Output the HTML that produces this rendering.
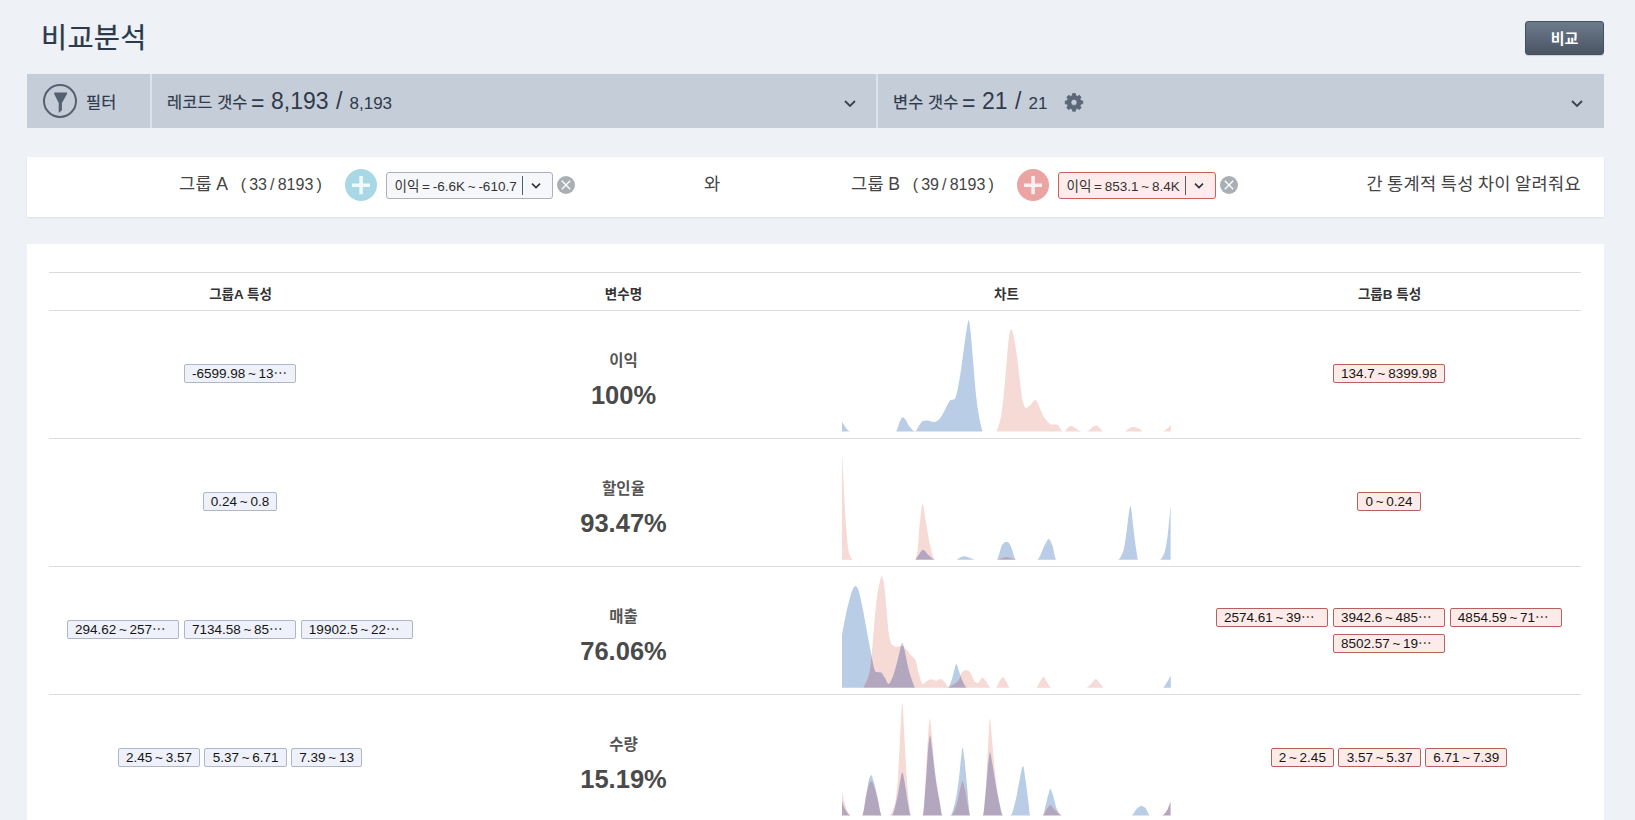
<!DOCTYPE html><html lang="ko"><head><meta charset="utf-8"><title>비교분석</title><style>
*{box-sizing:border-box;margin:0;padding:0}
html,body{width:1635px;height:820px;overflow:hidden}
body{background:#eef2f6;font-family:"Liberation Sans","Noto Sans CJK KR",sans-serif;color:#333;position:relative}
.abs{position:absolute;white-space:nowrap}
#title{left:41px;top:18px;font-size:28.4px;letter-spacing:.3px;line-height:40px;color:#2c3a4b;font-weight:400;-webkit-text-stroke:.25px #2c3a4b}
#btn{left:1525px;top:21px;width:79px;height:34px;border-radius:3px;background:linear-gradient(#6c7b8b,#4b5564);border:1px solid #47505d;color:#fff;font-weight:700;font-size:15px;line-height:34px;text-align:center;box-shadow:0 1px 1px rgba(0,0,0,.15)}
#fbar{left:27px;top:74px;width:1577px;height:54px;background:#c5cdd8}
.sep{top:0;width:2px;height:54px;background:#dde3ea}
.flabel{font-size:16.4px;letter-spacing:.1px;-webkit-text-stroke:.2px #2f3b4c;line-height:54px;color:#2f3b4c}
.fbig{font-size:23px;line-height:54px;color:#2f3b4c}
.fsmall{font-size:17px;line-height:54px;color:#2f3b4c}
#gbar{left:27px;top:157px;width:1577px;height:60px;background:#fff;box-shadow:0 1px 2px rgba(0,0,0,.08)}
.gtext{font-size:17.6px;letter-spacing:.3px;word-spacing:-1px;line-height:60px;color:#444}
.gcnt{font-size:16px;word-spacing:-1.3px;line-height:60px;color:#444}
.sel{top:15px;height:27px;border:1px solid #adb1b6;border-radius:3px;background:#f5f7fa;font-size:13.5px;word-spacing:-1px;line-height:28px;color:#333;padding-left:7.5px}
.sel.b{border-color:#c9605a;background:#fdeceb}
.sel i{position:absolute;top:3px;width:1px;height:19px;background:#555d66}
#panel{left:27px;top:244px;width:1577px;height:600px;background:#fff}
.hline{left:49px;width:1532px;height:1px;background:#d9dcdf}
.th{font-size:13.5px;font-weight:700;color:#333;line-height:38px;width:383px;text-align:center;top:275.5px}
.vname{font-size:15.5px;font-weight:700;color:#555;width:383px;left:432px;text-align:center;line-height:22px}
.vpct{font-size:25.5px;font-weight:700;color:#4a4a4a;width:383px;left:432px;text-align:center;line-height:30px}
.tags{width:383px;text-align:center;font-size:0;line-height:0}
.tag{display:inline-block;vertical-align:top;height:19px;border:1px solid #b0b6ca;border-radius:2px;background:#eef1f9;font-size:13.5px;word-spacing:-1px;line-height:17.5px;color:#151515;padding:0 7.2px;margin:0 2.2px 7px;text-align:left;white-space:nowrap;overflow:hidden}
.tag.w{width:112.6px}
.tags.b .tag{border-color:#b8605a;background:#fdebe9}
.chart{left:815px;width:383px;height:128px;overflow:hidden}
</style></head><body>
<div id="title" class="abs">비교분석</div>
<div id="btn" class="abs">비교</div>
<div id="fbar" class="abs">
<svg class="abs" style="left:15px;top:9px" width="36" height="36" viewBox="0 0 36 36"><circle cx="18" cy="18" r="16" fill="none" stroke="#566170" stroke-width="2"/><path d="M12.2 9.4H25V11L19.9 20V27.2L16.7 30V20L12.2 11Z" fill="#566170"/></svg>
<span class="abs flabel" style="left:59px;top:1px">필터</span>
<div class="abs sep" style="left:123px"></div>
<span class="abs flabel" style="left:140px;top:1px">레코드 갯수</span>
<span class="abs fbig" style="left:224px;top:1.5px">=</span>
<span class="abs fbig" style="left:244px;top:0">8,193</span>
<span class="abs fbig" style="left:309px;top:0">/</span>
<span class="abs fsmall" style="left:322.5px;top:2.6px">8,193</span>
<svg class="abs" style="left:816px;top:25px" width="14" height="10" viewBox="0 0 14 10"><path d="M2 2L7 7L12 2" fill="none" stroke="#39434f" stroke-width="1.8"/></svg>
<div class="abs sep" style="left:849px"></div>
<span class="abs flabel" style="left:866px;top:1px">변수 갯수</span>
<span class="abs fbig" style="left:935px;top:1.5px">=</span>
<span class="abs fbig" style="left:955px;top:0">21</span>
<span class="abs fbig" style="left:988px;top:0">/</span>
<span class="abs fsmall" style="left:1001.5px;top:2.6px">21</span>
<svg class="abs" style="left:1036px;top:17px" width="22" height="22" viewBox="0 0 22 22"><path fill-rule="evenodd" fill="#5b6776" stroke="#5b6776" stroke-width="0.8" stroke-linejoin="round" d="M9.42,4.58L9.54,2.62L12.46,2.62L12.58,4.58L14.70,5.46L16.17,4.16L18.24,6.23L16.94,7.70L17.82,9.82L19.78,9.94L19.78,12.86L17.82,12.98L16.94,15.10L18.24,16.57L16.17,18.64L14.70,17.34L12.58,18.22L12.46,20.18L9.54,20.18L9.42,18.22L7.30,17.34L5.83,18.64L3.76,16.57L5.06,15.10L4.18,12.98L2.22,12.86L2.22,9.94L4.18,9.82L5.06,7.70L3.76,6.23L5.83,4.16L7.30,5.46ZM14.10,11.40A3.1,3.1 0 1 0 7.90,11.40A3.1,3.1 0 1 0 14.10,11.40Z"/></svg>
<svg class="abs" style="left:1543px;top:25px" width="14" height="10" viewBox="0 0 14 10"><path d="M2 2L7 7L12 2" fill="none" stroke="#39434f" stroke-width="1.8"/></svg>
</div>
<div id="gbar" class="abs">
<span class="abs gtext" style="left:152px;top:-3.5px">그룹 A</span>
<span class="abs gcnt" style="left:213.7px;top:-2.5px">( 33 / 8193 )</span>
<svg class="abs" style="left:318px;top:12px" width="32" height="32" viewBox="0 0 32 32"><circle cx="16" cy="16" r="16" fill="#a8d8e6"/><path d="M7 16.3H25M16.1 7V25.3" stroke="#eefafd" stroke-width="3.5" fill="none"/></svg>
<div class="abs sel" style="left:359px;width:167px">이익 = -6.6K ~ -610.7<i style="left:135px"></i><svg class="abs" style="left:144px;top:9px" width="10" height="8" viewBox="0 0 10 8"><path d="M1 1.6L5 5.6L9 1.6" fill="none" stroke="#2a2f35" stroke-width="1.5"/></svg></div>
<svg class="abs" style="left:530px;top:19px" width="18" height="18" viewBox="0 0 18 18"><circle cx="9" cy="9" r="9" fill="#a9b0b5"/><path d="M4.8 4.8L13.2 13.2M13.2 4.8L4.8 13.2" stroke="#fff" stroke-width="1.3" fill="none"/></svg>
<span class="abs gtext" style="left:677px;top:-3.5px">와</span>
<span class="abs gtext" style="left:824px;top:-3.5px">그룹 B</span>
<span class="abs gcnt" style="left:885.7px;top:-2.5px">( 39 / 8193 )</span>
<svg class="abs" style="left:990px;top:12px" width="32" height="32" viewBox="0 0 32 32"><circle cx="16" cy="16" r="16" fill="#eba3a3"/><path d="M7 16.3H25M16.1 7V25.3" stroke="#fdf0f0" stroke-width="3.5" fill="none"/></svg>
<div class="abs sel b" style="left:1031px;width:158px">이익 = 853.1 ~ 8.4K<i style="left:126px"></i><svg class="abs" style="left:135px;top:9px" width="10" height="8" viewBox="0 0 10 8"><path d="M1 1.6L5 5.6L9 1.6" fill="none" stroke="#2a2f35" stroke-width="1.5"/></svg></div>
<svg class="abs" style="left:1193px;top:19px" width="18" height="18" viewBox="0 0 18 18"><circle cx="9" cy="9" r="9" fill="#a9b0b5"/><path d="M4.8 4.8L13.2 13.2M13.2 4.8L4.8 13.2" stroke="#fff" stroke-width="1.3" fill="none"/></svg>
<span class="abs gtext" style="right:23px;top:-3.5px">간 통계적 특성 차이 알려줘요</span>
</div>
<div id="panel" class="abs"></div>
<div class="abs hline" style="top:272px"></div>
<div class="abs hline" style="top:310px"></div>
<div class="abs hline" style="top:438px"></div>
<div class="abs hline" style="top:566px"></div>
<div class="abs hline" style="top:694px"></div>
<div class="abs th" style="left:49px">그룹A 특성</div>
<div class="abs th" style="left:432px">변수명</div>
<div class="abs th" style="left:815px">차트</div>
<div class="abs th" style="left:1198px">그룹B 특성</div>
<div class="abs vname" style="top:350px">이익</div>
<div class="abs vpct" style="top:380px">100%</div>
<div class="abs tags a" style="left:48.5px;top:364px;white-space:normal"><span class="tag w">-6599.98 ~ 13⋯</span></div>
<div class="abs tags b" style="left:1197.5px;top:364px;white-space:normal"><span class="tag">134.7 ~ 8399.98</span></div>
<svg class="abs chart" style="top:310px" width="383" height="128" viewBox="0 0 383 128"><clipPath id="cp0"><path d="M27.0,121.6L27.0,112.1C29.6,115.2 32.1,121.0 34.7,121.4C35.5,121.5 36.2,121.6 37.0,121.6C51.0,121.6 65.0,121.6 79.0,121.6C79.7,121.6 80.5,121.4 81.2,121.2C82.5,120.8 83.7,113.4 85.0,111.0C85.9,109.4 86.7,107.2 87.6,107.2C88.5,107.2 89.5,108.5 90.4,109.5C91.7,110.9 92.9,114.8 94.2,116.3C96.2,118.7 98.3,121.4 100.3,121.4C101.6,121.4 102.8,117.3 104.1,115.6C105.4,113.9 106.6,111.2 107.9,111.0C109.4,110.7 111.0,110.6 112.5,110.6C114.5,110.6 116.6,112.1 118.6,112.1C120.1,112.1 121.6,111.2 123.1,110.2C124.6,109.2 126.2,106.6 127.7,104.2C129.2,101.8 130.8,97.5 132.3,95.0C133.4,93.1 134.6,90.6 135.7,90.1C137.0,89.6 138.3,89.8 139.6,89.2C140.5,88.8 141.3,84.7 142.2,81.3C143.5,76.4 144.7,67.9 146.0,59.9C147.5,50.2 149.1,35.4 150.6,26.4C151.7,19.9 152.8,9.9 153.9,9.9C154.3,9.9 154.8,15.2 155.2,18.8C156.2,27.0 157.2,41.1 158.2,52.3C159.2,63.9 160.3,78.9 161.3,87.4C162.6,97.9 163.8,105.4 165.1,111.8C165.9,115.7 166.6,118.3 167.4,121.6L167.4,121.6Z"/></clipPath><path d="M27.0,121.6L27.0,112.1C29.6,115.2 32.1,121.0 34.7,121.4C35.5,121.5 36.2,121.6 37.0,121.6C51.0,121.6 65.0,121.6 79.0,121.6C79.7,121.6 80.5,121.4 81.2,121.2C82.5,120.8 83.7,113.4 85.0,111.0C85.9,109.4 86.7,107.2 87.6,107.2C88.5,107.2 89.5,108.5 90.4,109.5C91.7,110.9 92.9,114.8 94.2,116.3C96.2,118.7 98.3,121.4 100.3,121.4C101.6,121.4 102.8,117.3 104.1,115.6C105.4,113.9 106.6,111.2 107.9,111.0C109.4,110.7 111.0,110.6 112.5,110.6C114.5,110.6 116.6,112.1 118.6,112.1C120.1,112.1 121.6,111.2 123.1,110.2C124.6,109.2 126.2,106.6 127.7,104.2C129.2,101.8 130.8,97.5 132.3,95.0C133.4,93.1 134.6,90.6 135.7,90.1C137.0,89.6 138.3,89.8 139.6,89.2C140.5,88.8 141.3,84.7 142.2,81.3C143.5,76.4 144.7,67.9 146.0,59.9C147.5,50.2 149.1,35.4 150.6,26.4C151.7,19.9 152.8,9.9 153.9,9.9C154.3,9.9 154.8,15.2 155.2,18.8C156.2,27.0 157.2,41.1 158.2,52.3C159.2,63.9 160.3,78.9 161.3,87.4C162.6,97.9 163.8,105.4 165.1,111.8C165.9,115.7 166.6,118.3 167.4,121.6L167.4,121.6Z" fill="#b9cde6"/><path d="M181.7,121.6L181.7,121.6C183.0,117.3 184.2,114.6 185.5,108.7C186.5,104.0 187.5,96.1 188.5,87.4C189.5,78.4 190.6,63.6 191.6,52.3C192.4,43.9 193.1,32.2 193.9,27.9C194.7,23.6 195.4,19.1 196.2,19.1C196.9,19.1 197.7,22.3 198.4,24.9C199.4,28.6 200.5,36.1 201.5,43.2C202.5,50.0 203.5,59.8 204.5,67.5C205.5,75.5 206.6,86.5 207.6,90.4C208.6,94.2 209.6,98.0 210.6,98.0C212.4,98.0 214.2,95.6 216.0,94.2C217.5,93.0 219.0,90.1 220.5,90.1C221.5,90.1 222.6,93.1 223.6,95.0C225.1,97.9 226.7,103.0 228.2,105.7C229.5,107.9 230.7,109.7 232.0,111.0C233.5,112.5 235.0,114.5 236.5,114.5C238.3,114.5 240.1,114.5 241.9,114.5C243.9,114.5 246.0,121.6 248.0,121.6C248.5,121.6 249.0,121.6 249.5,121.6C250.5,121.6 251.6,118.6 252.6,117.9C253.9,117.0 255.1,116.0 256.4,116.0C257.9,116.0 259.4,117.8 260.9,118.6C262.9,119.7 265.0,121.6 267.0,121.6C268.5,121.6 270.1,121.6 271.6,121.6C273.6,121.6 275.7,118.2 277.7,117.1C278.8,116.5 279.9,115.6 281.0,115.6C282.2,115.6 283.4,117.0 284.6,117.9C285.9,118.9 287.1,121.6 288.4,121.6C295.3,121.6 302.1,121.6 309.0,121.6C310.8,121.6 312.5,118.8 314.3,118.2C315.8,117.7 317.4,117.1 318.9,117.1C320.4,117.1 321.9,118.0 323.4,118.6C325.2,119.3 327.0,121.6 328.8,121.6C334.9,121.6 341.0,121.6 347.1,121.6C348.9,121.6 350.6,120.0 352.4,118.6C353.5,117.7 354.7,116.1 355.8,114.8L355.8,121.6Z" fill="#f5dad6"/><path d="M181.7,121.6L181.7,121.6C183.0,117.3 184.2,114.6 185.5,108.7C186.5,104.0 187.5,96.1 188.5,87.4C189.5,78.4 190.6,63.6 191.6,52.3C192.4,43.9 193.1,32.2 193.9,27.9C194.7,23.6 195.4,19.1 196.2,19.1C196.9,19.1 197.7,22.3 198.4,24.9C199.4,28.6 200.5,36.1 201.5,43.2C202.5,50.0 203.5,59.8 204.5,67.5C205.5,75.5 206.6,86.5 207.6,90.4C208.6,94.2 209.6,98.0 210.6,98.0C212.4,98.0 214.2,95.6 216.0,94.2C217.5,93.0 219.0,90.1 220.5,90.1C221.5,90.1 222.6,93.1 223.6,95.0C225.1,97.9 226.7,103.0 228.2,105.7C229.5,107.9 230.7,109.7 232.0,111.0C233.5,112.5 235.0,114.5 236.5,114.5C238.3,114.5 240.1,114.5 241.9,114.5C243.9,114.5 246.0,121.6 248.0,121.6C248.5,121.6 249.0,121.6 249.5,121.6C250.5,121.6 251.6,118.6 252.6,117.9C253.9,117.0 255.1,116.0 256.4,116.0C257.9,116.0 259.4,117.8 260.9,118.6C262.9,119.7 265.0,121.6 267.0,121.6C268.5,121.6 270.1,121.6 271.6,121.6C273.6,121.6 275.7,118.2 277.7,117.1C278.8,116.5 279.9,115.6 281.0,115.6C282.2,115.6 283.4,117.0 284.6,117.9C285.9,118.9 287.1,121.6 288.4,121.6C295.3,121.6 302.1,121.6 309.0,121.6C310.8,121.6 312.5,118.8 314.3,118.2C315.8,117.7 317.4,117.1 318.9,117.1C320.4,117.1 321.9,118.0 323.4,118.6C325.2,119.3 327.0,121.6 328.8,121.6C334.9,121.6 341.0,121.6 347.1,121.6C348.9,121.6 350.6,120.0 352.4,118.6C353.5,117.7 354.7,116.1 355.8,114.8L355.8,121.6Z" fill="#b3a7bf" clip-path="url(#cp0)"/></svg>
<div class="abs vname" style="top:478px">할인율</div>
<div class="abs vpct" style="top:508px">93.47%</div>
<div class="abs tags a" style="left:48.5px;top:492px;white-space:normal"><span class="tag">0.24 ~ 0.8</span></div>
<div class="abs tags b" style="left:1197.5px;top:492px;white-space:normal"><span class="tag">0 ~ 0.24</span></div>
<svg class="abs chart" style="top:438px" width="383" height="128" viewBox="0 0 383 128"><clipPath id="cp1"><path d="M100.3,121.7L100.3,121.7C101.5,120.0 102.8,118.1 104.0,116.5C105.3,114.8 106.6,111.8 107.9,111.8C109.6,111.8 111.3,115.1 113.0,116.5C115.4,118.4 117.7,121.7 120.1,121.7C127.2,121.7 134.3,121.7 141.4,121.7C142.6,121.7 143.8,120.0 145.0,119.5C146.4,118.9 147.7,118.2 149.1,118.2C150.9,118.2 152.7,119.2 154.5,119.8C156.5,120.4 158.5,121.7 160.5,121.7C167.6,121.7 174.6,121.7 181.7,121.7C183.5,121.7 185.2,109.9 187.0,107.2C187.8,105.9 188.7,104.8 189.5,104.4C190.2,104.1 190.9,103.8 191.6,103.8C192.2,103.8 192.9,104.2 193.5,104.6C194.1,105.0 194.8,106.1 195.4,107.2C197.3,110.5 199.3,121.7 201.2,121.7C208.2,121.7 215.1,121.7 222.1,121.7C224.6,121.7 227.2,111.4 229.7,107.2C231.1,104.9 232.4,101.1 233.8,101.1C235.0,101.1 236.1,104.5 237.3,107.2C238.7,110.4 240.0,121.7 241.4,121.7C261.9,121.7 282.4,121.7 302.9,121.7C304.7,121.7 306.4,117.9 308.2,113.3C309.5,110.0 310.7,98.4 312.0,90.4C313.1,83.2 314.3,67.9 315.4,67.9C316.3,67.9 317.2,80.6 318.1,87.4C319.1,95.2 320.2,105.4 321.2,111.8C321.8,115.7 322.5,121.7 323.1,121.7C330.3,121.7 337.6,121.7 344.8,121.7C346.3,121.7 347.9,118.5 349.4,114.8C350.4,112.4 351.4,106.3 352.4,99.6C353.5,92.4 354.5,78.2 355.6,67.5L355.6,121.7Z"/></clipPath><path d="M100.3,121.7L100.3,121.7C101.5,120.0 102.8,118.1 104.0,116.5C105.3,114.8 106.6,111.8 107.9,111.8C109.6,111.8 111.3,115.1 113.0,116.5C115.4,118.4 117.7,121.7 120.1,121.7C127.2,121.7 134.3,121.7 141.4,121.7C142.6,121.7 143.8,120.0 145.0,119.5C146.4,118.9 147.7,118.2 149.1,118.2C150.9,118.2 152.7,119.2 154.5,119.8C156.5,120.4 158.5,121.7 160.5,121.7C167.6,121.7 174.6,121.7 181.7,121.7C183.5,121.7 185.2,109.9 187.0,107.2C187.8,105.9 188.7,104.8 189.5,104.4C190.2,104.1 190.9,103.8 191.6,103.8C192.2,103.8 192.9,104.2 193.5,104.6C194.1,105.0 194.8,106.1 195.4,107.2C197.3,110.5 199.3,121.7 201.2,121.7C208.2,121.7 215.1,121.7 222.1,121.7C224.6,121.7 227.2,111.4 229.7,107.2C231.1,104.9 232.4,101.1 233.8,101.1C235.0,101.1 236.1,104.5 237.3,107.2C238.7,110.4 240.0,121.7 241.4,121.7C261.9,121.7 282.4,121.7 302.9,121.7C304.7,121.7 306.4,117.9 308.2,113.3C309.5,110.0 310.7,98.4 312.0,90.4C313.1,83.2 314.3,67.9 315.4,67.9C316.3,67.9 317.2,80.6 318.1,87.4C319.1,95.2 320.2,105.4 321.2,111.8C321.8,115.7 322.5,121.7 323.1,121.7C330.3,121.7 337.6,121.7 344.8,121.7C346.3,121.7 347.9,118.5 349.4,114.8C350.4,112.4 351.4,106.3 352.4,99.6C353.5,92.4 354.5,78.2 355.6,67.5L355.6,121.7Z" fill="#b9cde6"/><path d="M27.0,121.7L27.0,14.2C27.5,24.4 28.1,34.8 28.6,44.7C29.4,58.9 30.1,76.3 30.9,85.9C31.9,98.8 33.0,111.6 34.0,114.8C35.3,118.7 36.5,121.7 37.8,121.7C58.6,121.7 79.5,121.7 100.3,121.7C101.1,121.7 101.8,116.7 102.6,111.8C103.4,106.9 104.1,91.0 104.9,84.3C105.8,76.5 106.7,66.0 107.6,66.0C108.7,66.0 109.9,78.1 111.0,84.3C112.3,91.3 113.5,100.6 114.8,105.7C116.6,112.8 118.3,121.7 120.1,121.7C140.9,121.7 161.7,121.7 182.5,121.7C184.0,121.7 185.5,120.4 187.0,120.0C188.5,119.6 190.1,119.0 191.6,119.0C193.1,119.0 194.5,119.6 196.0,120.0C197.5,120.4 199.0,121.1 200.5,121.7L200.5,121.7Z" fill="#f5dad6"/><path d="M27.0,121.7L27.0,14.2C27.5,24.4 28.1,34.8 28.6,44.7C29.4,58.9 30.1,76.3 30.9,85.9C31.9,98.8 33.0,111.6 34.0,114.8C35.3,118.7 36.5,121.7 37.8,121.7C58.6,121.7 79.5,121.7 100.3,121.7C101.1,121.7 101.8,116.7 102.6,111.8C103.4,106.9 104.1,91.0 104.9,84.3C105.8,76.5 106.7,66.0 107.6,66.0C108.7,66.0 109.9,78.1 111.0,84.3C112.3,91.3 113.5,100.6 114.8,105.7C116.6,112.8 118.3,121.7 120.1,121.7C140.9,121.7 161.7,121.7 182.5,121.7C184.0,121.7 185.5,120.4 187.0,120.0C188.5,119.6 190.1,119.0 191.6,119.0C193.1,119.0 194.5,119.6 196.0,120.0C197.5,120.4 199.0,121.1 200.5,121.7L200.5,121.7Z" fill="#b3a7bf" clip-path="url(#cp1)"/></svg>
<div class="abs vname" style="top:606px">매출</div>
<div class="abs vpct" style="top:636px">76.06%</div>
<div class="abs tags a" style="left:48.5px;top:620px;white-space:normal"><span class="tag w">294.62 ~ 257⋯</span><span class="tag w">7134.58 ~ 85⋯</span><span class="tag w">19902.5 ~ 22⋯</span></div>
<div class="abs tags b" style="left:1197.5px;top:608px;white-space:normal"><span class="tag w">2574.61 ~ 39⋯</span><span class="tag w">3942.6 ~ 485⋯</span><span class="tag w">4854.59 ~ 71⋯</span><span class="tag w">8502.57 ~ 19⋯</span></div>
<svg class="abs chart" style="top:566px" width="383" height="128" viewBox="0 0 383 128"><clipPath id="cp2"><path d="M27.0,121.7L27.0,69.1C28.0,63.5 29.1,57.3 30.1,52.3C31.4,46.0 32.7,40.3 34.0,35.5C35.3,30.8 36.5,25.5 37.8,23.3C38.7,21.7 39.6,20.0 40.5,20.0C41.4,20.0 42.2,21.7 43.1,23.3C44.4,25.7 45.6,32.8 46.9,38.6C48.4,45.6 50.0,54.9 51.5,63.0C53.0,71.1 54.6,80.3 56.1,87.4C57.6,94.3 59.1,105.3 60.6,105.7C62.4,106.2 64.2,106.0 66.0,106.4C67.3,106.7 68.5,109.9 69.8,111.8C71.1,113.7 72.3,117.9 73.6,117.9C74.9,117.9 76.1,114.5 77.4,111.8C78.9,108.5 80.5,102.2 82.0,96.5C83.0,92.8 84.0,87.9 85.0,84.3C85.8,81.5 86.5,76.7 87.3,76.7C88.1,76.7 88.8,81.3 89.6,84.3C90.9,89.2 92.1,97.7 93.4,102.6C94.7,107.5 95.9,111.5 97.2,114.8C98.2,117.5 99.3,121.7 100.3,121.7C111.2,121.7 122.2,121.7 133.1,121.7C134.4,121.7 135.6,117.0 136.9,113.3C137.7,111.1 138.4,106.7 139.2,104.2C139.9,101.8 140.7,98.1 141.4,98.1C142.2,98.1 142.9,102.1 143.7,104.2C144.7,107.1 145.8,111.1 146.8,113.3C148.6,117.0 150.3,121.7 152.1,121.7C217.3,121.7 282.6,121.7 347.8,121.7C349.3,121.7 350.9,118.0 352.4,115.6C353.5,113.9 354.7,111.5 355.8,109.5L355.8,121.7Z"/></clipPath><path d="M27.0,121.7L27.0,69.1C28.0,63.5 29.1,57.3 30.1,52.3C31.4,46.0 32.7,40.3 34.0,35.5C35.3,30.8 36.5,25.5 37.8,23.3C38.7,21.7 39.6,20.0 40.5,20.0C41.4,20.0 42.2,21.7 43.1,23.3C44.4,25.7 45.6,32.8 46.9,38.6C48.4,45.6 50.0,54.9 51.5,63.0C53.0,71.1 54.6,80.3 56.1,87.4C57.6,94.3 59.1,105.3 60.6,105.7C62.4,106.2 64.2,106.0 66.0,106.4C67.3,106.7 68.5,109.9 69.8,111.8C71.1,113.7 72.3,117.9 73.6,117.9C74.9,117.9 76.1,114.5 77.4,111.8C78.9,108.5 80.5,102.2 82.0,96.5C83.0,92.8 84.0,87.9 85.0,84.3C85.8,81.5 86.5,76.7 87.3,76.7C88.1,76.7 88.8,81.3 89.6,84.3C90.9,89.2 92.1,97.7 93.4,102.6C94.7,107.5 95.9,111.5 97.2,114.8C98.2,117.5 99.3,121.7 100.3,121.7C111.2,121.7 122.2,121.7 133.1,121.7C134.4,121.7 135.6,117.0 136.9,113.3C137.7,111.1 138.4,106.7 139.2,104.2C139.9,101.8 140.7,98.1 141.4,98.1C142.2,98.1 142.9,102.1 143.7,104.2C144.7,107.1 145.8,111.1 146.8,113.3C148.6,117.0 150.3,121.7 152.1,121.7C217.3,121.7 282.6,121.7 347.8,121.7C349.3,121.7 350.9,118.0 352.4,115.6C353.5,113.9 354.7,111.5 355.8,109.5L355.8,121.7Z" fill="#b9cde6"/><path d="M48.4,121.7L48.4,121.7C50.2,117.4 52.0,115.5 53.8,108.7C54.8,104.9 55.8,96.4 56.8,87.4C57.6,80.5 58.3,68.2 59.1,59.9C60.1,48.7 61.2,36.3 62.2,29.4C63.2,22.7 64.2,17.8 65.2,14.2C65.7,12.4 66.2,9.9 66.7,9.9C67.3,9.9 68.0,12.9 68.6,15.7C69.5,19.7 70.4,31.0 71.3,40.1C72.1,47.8 72.8,61.3 73.6,66.0C74.6,72.1 75.6,77.3 76.6,78.2C78.4,79.9 80.2,80.8 82.0,80.8C83.8,80.8 85.5,79.6 87.3,79.6C88.1,79.6 88.8,80.8 89.6,81.5C91.6,83.4 93.7,86.7 95.7,88.9C97.2,90.6 98.8,90.9 100.3,93.5C101.3,95.2 102.3,102.4 103.3,105.7C104.8,110.7 106.4,117.9 107.9,117.9C109.4,117.9 111.0,115.6 112.5,114.8C113.8,114.2 115.0,113.3 116.3,113.3C117.8,113.3 119.4,114.8 120.9,114.8C122.4,114.8 123.9,113.0 125.4,113.0C126.7,113.0 128.0,114.4 129.3,115.6C130.6,116.7 131.8,120.8 133.1,120.8C134.7,120.8 136.4,119.4 138.0,118.5C139.7,117.5 141.3,116.6 143.0,114.8C144.5,113.2 146.0,106.7 147.5,105.7C148.8,104.8 150.1,104.1 151.4,104.1C152.7,104.1 153.9,105.2 155.2,106.4C156.7,107.8 158.2,114.5 159.7,115.6C160.7,116.4 161.8,117.1 162.8,117.1C164.3,117.1 165.9,111.5 167.4,111.5C168.7,111.5 169.9,114.1 171.2,115.6C172.7,117.4 174.1,121.7 175.6,121.7C177.4,121.7 179.1,121.7 180.9,121.7C182.2,121.7 183.4,116.5 184.7,114.8C185.8,113.2 187.0,111.0 188.1,111.0C189.3,111.0 190.4,114.4 191.6,116.3C192.6,117.9 193.6,121.7 194.6,121.7C203.5,121.7 212.4,121.7 221.3,121.7C222.6,121.7 223.8,117.5 225.1,115.6C226.2,113.9 227.4,111.0 228.5,111.0C229.7,111.0 230.8,114.7 232.0,116.3C233.5,118.3 235.0,121.7 236.5,121.7C247.9,121.7 259.4,121.7 270.8,121.7C272.8,121.7 274.9,118.9 276.9,117.1C278.2,115.9 279.5,113.0 280.8,113.0C282.1,113.0 283.3,115.7 284.6,117.1C285.9,118.5 287.1,120.2 288.4,121.7L288.4,121.7Z" fill="#f5dad6"/><path d="M48.4,121.7L48.4,121.7C50.2,117.4 52.0,115.5 53.8,108.7C54.8,104.9 55.8,96.4 56.8,87.4C57.6,80.5 58.3,68.2 59.1,59.9C60.1,48.7 61.2,36.3 62.2,29.4C63.2,22.7 64.2,17.8 65.2,14.2C65.7,12.4 66.2,9.9 66.7,9.9C67.3,9.9 68.0,12.9 68.6,15.7C69.5,19.7 70.4,31.0 71.3,40.1C72.1,47.8 72.8,61.3 73.6,66.0C74.6,72.1 75.6,77.3 76.6,78.2C78.4,79.9 80.2,80.8 82.0,80.8C83.8,80.8 85.5,79.6 87.3,79.6C88.1,79.6 88.8,80.8 89.6,81.5C91.6,83.4 93.7,86.7 95.7,88.9C97.2,90.6 98.8,90.9 100.3,93.5C101.3,95.2 102.3,102.4 103.3,105.7C104.8,110.7 106.4,117.9 107.9,117.9C109.4,117.9 111.0,115.6 112.5,114.8C113.8,114.2 115.0,113.3 116.3,113.3C117.8,113.3 119.4,114.8 120.9,114.8C122.4,114.8 123.9,113.0 125.4,113.0C126.7,113.0 128.0,114.4 129.3,115.6C130.6,116.7 131.8,120.8 133.1,120.8C134.7,120.8 136.4,119.4 138.0,118.5C139.7,117.5 141.3,116.6 143.0,114.8C144.5,113.2 146.0,106.7 147.5,105.7C148.8,104.8 150.1,104.1 151.4,104.1C152.7,104.1 153.9,105.2 155.2,106.4C156.7,107.8 158.2,114.5 159.7,115.6C160.7,116.4 161.8,117.1 162.8,117.1C164.3,117.1 165.9,111.5 167.4,111.5C168.7,111.5 169.9,114.1 171.2,115.6C172.7,117.4 174.1,121.7 175.6,121.7C177.4,121.7 179.1,121.7 180.9,121.7C182.2,121.7 183.4,116.5 184.7,114.8C185.8,113.2 187.0,111.0 188.1,111.0C189.3,111.0 190.4,114.4 191.6,116.3C192.6,117.9 193.6,121.7 194.6,121.7C203.5,121.7 212.4,121.7 221.3,121.7C222.6,121.7 223.8,117.5 225.1,115.6C226.2,113.9 227.4,111.0 228.5,111.0C229.7,111.0 230.8,114.7 232.0,116.3C233.5,118.3 235.0,121.7 236.5,121.7C247.9,121.7 259.4,121.7 270.8,121.7C272.8,121.7 274.9,118.9 276.9,117.1C278.2,115.9 279.5,113.0 280.8,113.0C282.1,113.0 283.3,115.7 284.6,117.1C285.9,118.5 287.1,120.2 288.4,121.7L288.4,121.7Z" fill="#b3a7bf" clip-path="url(#cp2)"/></svg>
<div class="abs vname" style="top:734px">수량</div>
<div class="abs vpct" style="top:764px">15.19%</div>
<div class="abs tags a" style="left:48.5px;top:748px;white-space:normal"><span class="tag">2.45 ~ 3.57</span><span class="tag">5.37 ~ 6.71</span><span class="tag">7.39 ~ 13</span></div>
<div class="abs tags b" style="left:1197.5px;top:748px;white-space:normal"><span class="tag">2 ~ 2.45</span><span class="tag">3.57 ~ 5.37</span><span class="tag">6.71 ~ 7.39</span></div>
<svg class="abs chart" style="top:694px" width="383" height="128" viewBox="0 0 383 128"><clipPath id="cp3"><path d="M27.0,121.4L27.0,107.7C28.0,110.2 29.1,113.6 30.1,115.3C31.9,118.2 33.7,121.4 35.5,121.4C39.4,121.4 43.3,121.4 47.2,121.4C48.6,121.4 50.1,106.2 51.5,98.6C52.3,94.5 53.0,88.9 53.8,86.4C54.6,83.9 55.3,81.0 56.1,81.0C56.9,81.0 57.6,84.2 58.4,86.4C59.7,90.1 60.9,96.3 62.2,101.6C63.7,107.9 65.2,121.4 66.7,121.4C70.0,121.4 73.3,121.4 76.6,121.4C78.4,121.4 80.2,112.1 82.0,104.7C83.0,100.6 84.0,92.6 85.0,87.9C85.8,84.3 86.5,78.5 87.3,78.5C88.1,78.5 88.8,84.1 89.6,87.9C90.6,93.0 91.7,102.2 92.7,107.7C93.7,113.0 94.7,121.4 95.7,121.4C99.7,121.4 103.6,121.4 107.6,121.4C108.7,121.4 109.9,100.2 111.0,86.4C111.7,77.4 112.5,61.2 113.2,54.4C113.8,48.6 114.5,41.4 115.1,41.4C115.7,41.4 116.4,49.7 117.0,54.4C118.3,64.0 119.6,77.7 120.9,86.4C122.2,94.8 123.4,101.0 124.7,107.7C125.6,112.5 126.5,121.4 127.4,121.4C130.0,121.4 132.7,121.4 135.3,121.4C136.8,121.4 138.4,114.9 139.9,109.2C141.2,104.5 142.4,95.8 143.7,86.4C144.5,80.7 145.2,71.4 146.0,65.0C146.5,60.8 147.0,53.6 147.5,53.6C148.1,53.6 148.8,60.3 149.4,65.0C150.3,71.7 151.2,83.7 152.1,92.5C153.1,102.6 154.2,121.4 155.2,121.4C159.4,121.4 163.6,121.4 167.8,121.4C168.9,121.4 170.1,103.6 171.2,92.5C172.0,85.0 172.7,72.2 173.5,66.6C174.0,62.9 174.5,58.2 175.0,58.2C175.8,58.2 176.5,65.5 177.3,69.6C178.6,76.4 179.8,85.7 181.1,92.5C182.4,99.3 183.6,105.7 184.9,110.8C185.9,114.9 186.9,121.4 187.9,121.4C190.4,121.4 192.9,121.4 195.4,121.4C197.2,121.4 198.9,112.8 200.7,106.2C202.0,101.4 203.2,92.2 204.5,86.4C205.7,81.0 206.8,71.9 208.0,71.9C208.9,71.9 209.7,80.8 210.6,86.4C211.5,92.4 212.5,100.6 213.4,107.7C214.0,112.3 214.6,121.4 215.2,121.4C219.4,121.4 223.5,121.4 227.7,121.4C228.9,121.4 230.0,113.5 231.2,109.2C232.0,106.3 232.7,102.7 233.5,100.1C234.1,98.1 234.7,94.8 235.3,94.8C236.2,94.8 237.2,98.9 238.1,101.6C239.4,105.2 240.6,112.9 241.9,115.3C243.6,118.4 245.2,121.4 246.9,121.4C270.1,121.4 293.4,121.4 316.6,121.4C318.4,121.4 320.1,116.0 321.9,114.6C323.4,113.4 325.0,112.0 326.5,112.0C327.8,112.0 329.0,112.9 330.3,113.8C331.8,114.9 333.4,121.4 334.9,121.4C339.0,121.4 343.0,121.4 347.1,121.4C348.6,121.4 350.1,119.0 351.6,116.9C352.9,115.0 354.3,110.8 355.6,107.7L355.6,121.4Z"/></clipPath><path d="M27.0,121.4L27.0,107.7C28.0,110.2 29.1,113.6 30.1,115.3C31.9,118.2 33.7,121.4 35.5,121.4C39.4,121.4 43.3,121.4 47.2,121.4C48.6,121.4 50.1,106.2 51.5,98.6C52.3,94.5 53.0,88.9 53.8,86.4C54.6,83.9 55.3,81.0 56.1,81.0C56.9,81.0 57.6,84.2 58.4,86.4C59.7,90.1 60.9,96.3 62.2,101.6C63.7,107.9 65.2,121.4 66.7,121.4C70.0,121.4 73.3,121.4 76.6,121.4C78.4,121.4 80.2,112.1 82.0,104.7C83.0,100.6 84.0,92.6 85.0,87.9C85.8,84.3 86.5,78.5 87.3,78.5C88.1,78.5 88.8,84.1 89.6,87.9C90.6,93.0 91.7,102.2 92.7,107.7C93.7,113.0 94.7,121.4 95.7,121.4C99.7,121.4 103.6,121.4 107.6,121.4C108.7,121.4 109.9,100.2 111.0,86.4C111.7,77.4 112.5,61.2 113.2,54.4C113.8,48.6 114.5,41.4 115.1,41.4C115.7,41.4 116.4,49.7 117.0,54.4C118.3,64.0 119.6,77.7 120.9,86.4C122.2,94.8 123.4,101.0 124.7,107.7C125.6,112.5 126.5,121.4 127.4,121.4C130.0,121.4 132.7,121.4 135.3,121.4C136.8,121.4 138.4,114.9 139.9,109.2C141.2,104.5 142.4,95.8 143.7,86.4C144.5,80.7 145.2,71.4 146.0,65.0C146.5,60.8 147.0,53.6 147.5,53.6C148.1,53.6 148.8,60.3 149.4,65.0C150.3,71.7 151.2,83.7 152.1,92.5C153.1,102.6 154.2,121.4 155.2,121.4C159.4,121.4 163.6,121.4 167.8,121.4C168.9,121.4 170.1,103.6 171.2,92.5C172.0,85.0 172.7,72.2 173.5,66.6C174.0,62.9 174.5,58.2 175.0,58.2C175.8,58.2 176.5,65.5 177.3,69.6C178.6,76.4 179.8,85.7 181.1,92.5C182.4,99.3 183.6,105.7 184.9,110.8C185.9,114.9 186.9,121.4 187.9,121.4C190.4,121.4 192.9,121.4 195.4,121.4C197.2,121.4 198.9,112.8 200.7,106.2C202.0,101.4 203.2,92.2 204.5,86.4C205.7,81.0 206.8,71.9 208.0,71.9C208.9,71.9 209.7,80.8 210.6,86.4C211.5,92.4 212.5,100.6 213.4,107.7C214.0,112.3 214.6,121.4 215.2,121.4C219.4,121.4 223.5,121.4 227.7,121.4C228.9,121.4 230.0,113.5 231.2,109.2C232.0,106.3 232.7,102.7 233.5,100.1C234.1,98.1 234.7,94.8 235.3,94.8C236.2,94.8 237.2,98.9 238.1,101.6C239.4,105.2 240.6,112.9 241.9,115.3C243.6,118.4 245.2,121.4 246.9,121.4C270.1,121.4 293.4,121.4 316.6,121.4C318.4,121.4 320.1,116.0 321.9,114.6C323.4,113.4 325.0,112.0 326.5,112.0C327.8,112.0 329.0,112.9 330.3,113.8C331.8,114.9 333.4,121.4 334.9,121.4C339.0,121.4 343.0,121.4 347.1,121.4C348.6,121.4 350.1,119.0 351.6,116.9C352.9,115.0 354.3,110.8 355.6,107.7L355.6,121.4Z" fill="#b9cde6"/><path d="M27.0,121.4L27.0,98.6C27.8,101.6 28.6,105.0 29.4,107.7C30.4,111.1 31.4,115.2 32.4,116.9C33.7,119.1 34.9,121.4 36.2,121.4C39.9,121.4 43.5,121.4 47.2,121.4C48.6,121.4 50.1,106.4 51.5,100.1C52.4,96.2 53.3,90.9 54.2,89.4C54.9,88.2 55.7,87.1 56.4,87.1C57.3,87.1 58.2,90.2 59.1,92.5C60.4,95.7 61.6,101.4 62.9,106.2C64.2,111.0 65.4,121.4 66.7,121.4C69.3,121.4 71.8,121.4 74.4,121.4C76.2,121.4 77.9,116.8 79.7,110.8C80.7,107.4 81.7,97.6 82.7,86.4C83.5,77.8 84.2,59.5 85.0,46.7C85.8,33.9 86.5,9.4 87.3,9.4C88.1,9.4 88.8,33.9 89.6,46.7C90.4,59.5 91.1,76.3 91.9,86.4C92.7,96.5 93.4,105.1 94.2,110.8C94.8,115.3 95.4,121.4 96.0,121.4C99.9,121.4 103.7,121.4 107.6,121.4C108.7,121.4 109.9,93.9 111.0,77.2C111.7,66.4 112.5,49.6 113.2,40.6C113.7,34.0 114.3,24.6 114.8,24.6C115.4,24.6 116.1,34.7 116.7,40.6C117.8,51.2 119.0,67.8 120.1,77.2C121.6,89.9 123.2,99.0 124.7,107.7C125.6,112.8 126.5,121.4 127.4,121.4C130.3,121.4 133.2,121.4 136.1,121.4C137.9,121.4 139.6,115.7 141.4,110.8C142.7,107.2 144.0,98.7 145.3,94.0C146.0,91.4 146.8,87.1 147.5,87.1C148.3,87.1 149.0,91.1 149.8,94.0C150.8,97.9 151.9,106.0 152.9,110.8C153.8,114.8 154.6,121.4 155.5,121.4C159.6,121.4 163.7,121.4 167.8,121.4C168.9,121.4 170.1,101.7 171.2,86.4C172.0,76.1 172.7,55.1 173.5,43.7C174.0,36.2 174.5,24.6 175.0,24.6C175.6,24.6 176.2,37.4 176.8,43.7C178.0,56.0 179.1,70.3 180.3,80.3C181.6,91.1 182.8,101.6 184.1,107.7C185.4,113.8 186.6,121.4 187.9,121.4C201.2,121.4 214.4,121.4 227.7,121.4C229.1,121.4 230.6,116.6 232.0,114.6C233.0,113.2 234.0,110.8 235.0,110.8C236.5,110.8 238.1,113.9 239.6,115.3C242.0,117.5 244.5,121.4 246.9,121.4C280.3,121.4 313.7,121.4 347.1,121.4C348.6,121.4 350.1,119.0 351.6,116.9C352.9,115.0 354.3,110.8 355.6,107.7L355.6,121.4Z" fill="#f5dad6"/><path d="M27.0,121.4L27.0,98.6C27.8,101.6 28.6,105.0 29.4,107.7C30.4,111.1 31.4,115.2 32.4,116.9C33.7,119.1 34.9,121.4 36.2,121.4C39.9,121.4 43.5,121.4 47.2,121.4C48.6,121.4 50.1,106.4 51.5,100.1C52.4,96.2 53.3,90.9 54.2,89.4C54.9,88.2 55.7,87.1 56.4,87.1C57.3,87.1 58.2,90.2 59.1,92.5C60.4,95.7 61.6,101.4 62.9,106.2C64.2,111.0 65.4,121.4 66.7,121.4C69.3,121.4 71.8,121.4 74.4,121.4C76.2,121.4 77.9,116.8 79.7,110.8C80.7,107.4 81.7,97.6 82.7,86.4C83.5,77.8 84.2,59.5 85.0,46.7C85.8,33.9 86.5,9.4 87.3,9.4C88.1,9.4 88.8,33.9 89.6,46.7C90.4,59.5 91.1,76.3 91.9,86.4C92.7,96.5 93.4,105.1 94.2,110.8C94.8,115.3 95.4,121.4 96.0,121.4C99.9,121.4 103.7,121.4 107.6,121.4C108.7,121.4 109.9,93.9 111.0,77.2C111.7,66.4 112.5,49.6 113.2,40.6C113.7,34.0 114.3,24.6 114.8,24.6C115.4,24.6 116.1,34.7 116.7,40.6C117.8,51.2 119.0,67.8 120.1,77.2C121.6,89.9 123.2,99.0 124.7,107.7C125.6,112.8 126.5,121.4 127.4,121.4C130.3,121.4 133.2,121.4 136.1,121.4C137.9,121.4 139.6,115.7 141.4,110.8C142.7,107.2 144.0,98.7 145.3,94.0C146.0,91.4 146.8,87.1 147.5,87.1C148.3,87.1 149.0,91.1 149.8,94.0C150.8,97.9 151.9,106.0 152.9,110.8C153.8,114.8 154.6,121.4 155.5,121.4C159.6,121.4 163.7,121.4 167.8,121.4C168.9,121.4 170.1,101.7 171.2,86.4C172.0,76.1 172.7,55.1 173.5,43.7C174.0,36.2 174.5,24.6 175.0,24.6C175.6,24.6 176.2,37.4 176.8,43.7C178.0,56.0 179.1,70.3 180.3,80.3C181.6,91.1 182.8,101.6 184.1,107.7C185.4,113.8 186.6,121.4 187.9,121.4C201.2,121.4 214.4,121.4 227.7,121.4C229.1,121.4 230.6,116.6 232.0,114.6C233.0,113.2 234.0,110.8 235.0,110.8C236.5,110.8 238.1,113.9 239.6,115.3C242.0,117.5 244.5,121.4 246.9,121.4C280.3,121.4 313.7,121.4 347.1,121.4C348.6,121.4 350.1,119.0 351.6,116.9C352.9,115.0 354.3,110.8 355.6,107.7L355.6,121.4Z" fill="#b3a7bf" clip-path="url(#cp3)"/></svg>
</body></html>
